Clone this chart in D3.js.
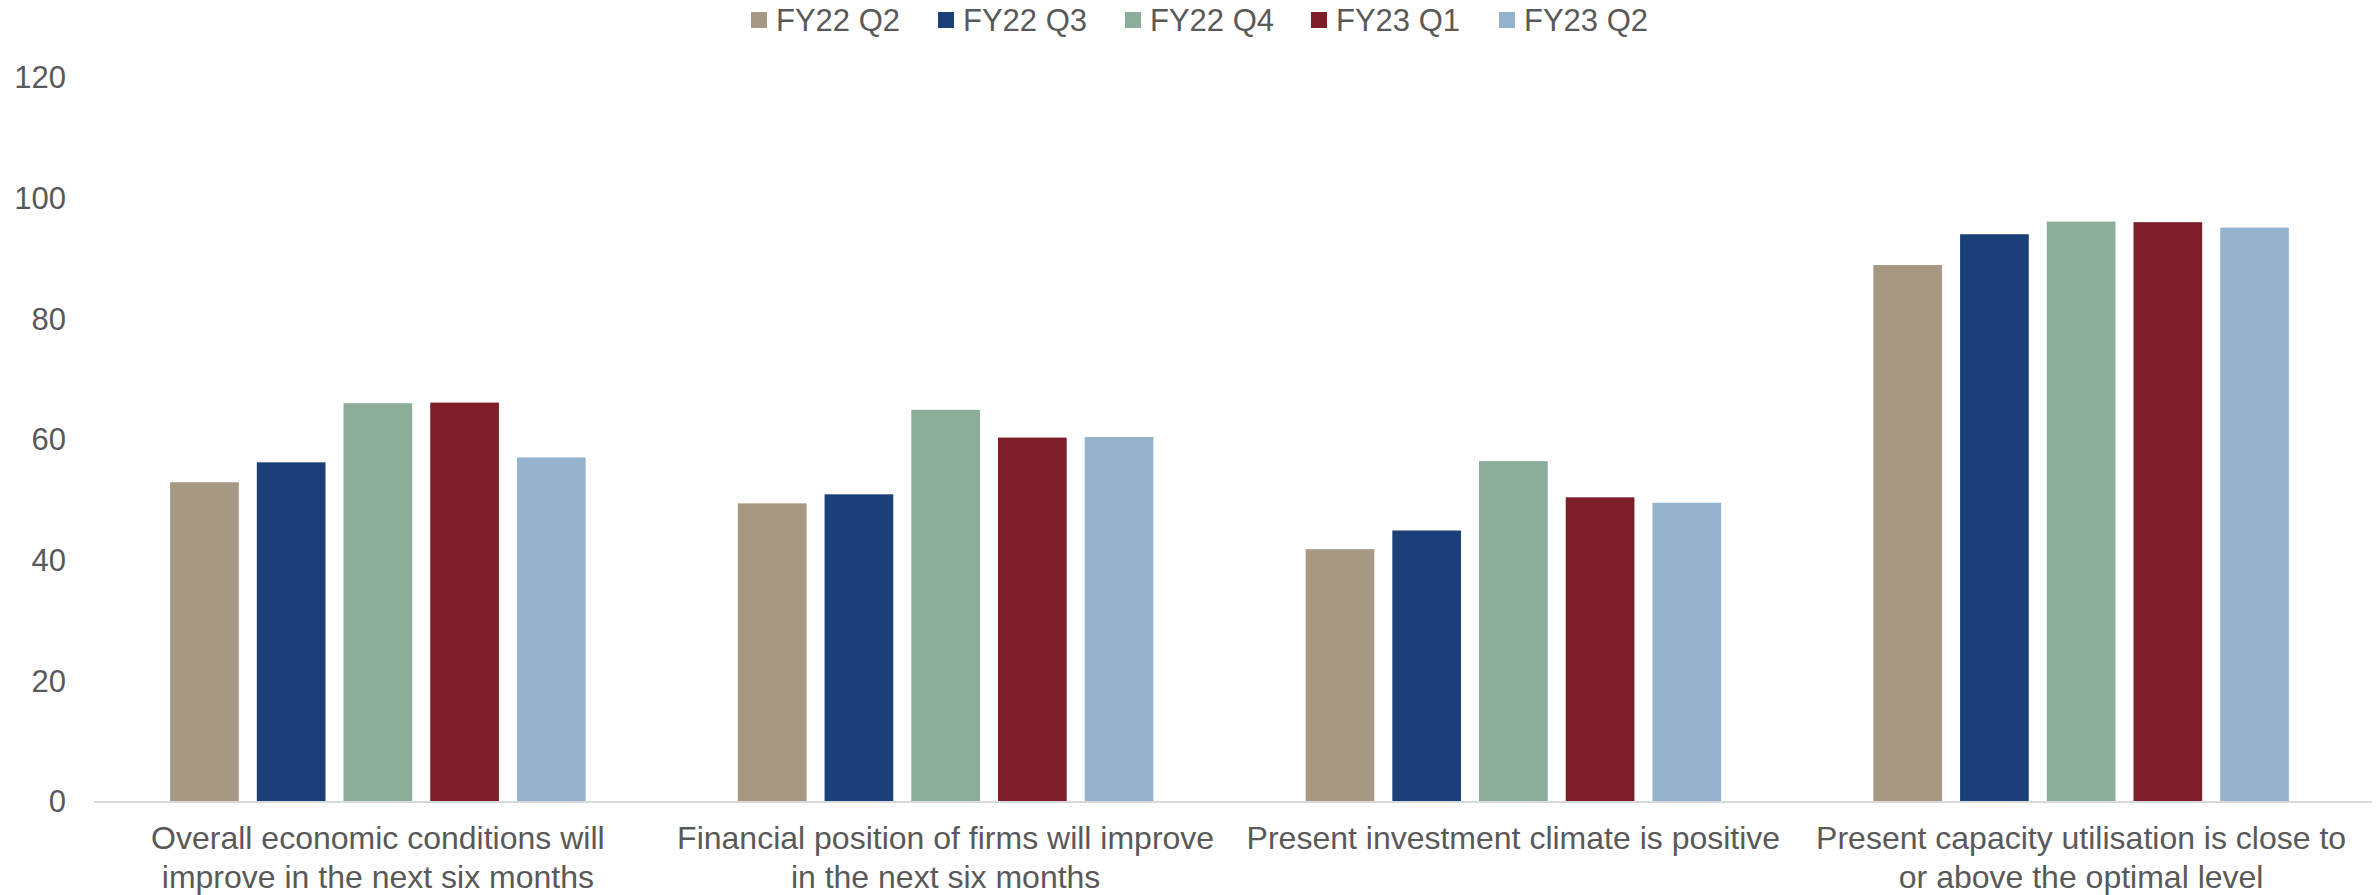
<!DOCTYPE html>
<html>
<head>
<meta charset="utf-8">
<script src="https://cdn.jsdelivr.net/npm/d3@7"></script>
<style>
  html, body { margin: 0; padding: 0; background: #fff; }
  svg { display: block; font-family: "Liberation Sans", Arial, sans-serif; }
</style>
</head>
<body>
<svg id="chart" width="2377" height="895"></svg>
<script>
// Survey statements (x categories), each split over two lines
const categories = [
  ["Overall economic conditions will", "improve in the next six months"],
  ["Financial position of firms will improve", "in the next six months"],
  ["Present investment climate is positive"],
  ["Present capacity utilisation is close to", "or above the optimal level"]
];
const seriesNames = ["FY22 Q2", "FY22 Q3", "FY22 Q4", "FY23 Q1", "FY23 Q2"];
const seriesColors = ["#A69883", "#1B3F78", "#8BAD9A", "#7C1F29", "#95B3CD"];

// Share of respondents (%) per quarter, one array per statement
const overallEconomy = [53.0, 56.3, 66.1, 66.2, 57.1];
const financialPosition = [49.5, 51.0, 65.0, 60.4, 60.5];
const investmentClimate = [41.9, 45.0, 56.5, 50.5, 49.6];
const capacityUtilisation = [89.0, 94.1, 96.2, 96.1, 95.2];
const values = [overallEconomy, financialPosition, investmentClimate, capacityUtilisation];

const yTicks = [0, 20, 40, 60, 80, 100, 120];

const svg = d3.select("#chart");
const textColor = "#595959";
const fontSize = 31;
const catFontSize = 32;

const x0 = d3.scaleBand()
  .domain(d3.range(categories.length))
  .range([94, 2365])
  .padding(0);

const x1 = d3.scaleBand()
  .domain(seriesNames)
  .range([0, x0.bandwidth()])
  .paddingInner(0.208)
  .paddingOuter(0.878);

const y = d3.scaleLinear()
  .domain([0, 120])
  .range([802, 78]);

// Y axis labels (no axis line or ticks)
const yAxis = svg.append("g")
  .attr("transform", "translate(66,0)")
  .call(d3.axisLeft(y).tickValues(yTicks).tickSize(0).tickPadding(0));
yAxis.select(".domain").remove();
yAxis.selectAll("text")
  .attr("fill", textColor)
  .style("font-size", fontSize + "px")
  .style("font-family", "'Liberation Sans', Arial, sans-serif");

// Bars
const groups = svg.append("g")
  .selectAll("g")
  .data(values)
  .join("g")
  .attr("transform", (d, i) => `translate(${x0(i)},0)`);

groups.selectAll("rect")
  .data(d => d.map((v, j) => ({ v, name: seriesNames[j], color: seriesColors[j] })))
  .join("rect")
  .attr("x", d => x1(d.name))
  .attr("y", d => y(d.v))
  .attr("width", x1.bandwidth())
  .attr("height", d => y(0) - y(d.v))
  .attr("fill", d => d.color);

// Baseline
svg.append("line")
  .attr("x1", 94).attr("x2", 2372)
  .attr("y1", y(0)).attr("y2", y(0))
  .attr("stroke", "#D9D9D9")
  .attr("stroke-width", 2);

// Category labels
const catLabels = svg.append("g")
  .selectAll("text")
  .data(categories)
  .join("text")
  .attr("x", (d, i) => x0(i) + x0.bandwidth() / 2)
  .attr("y", 849)
  .attr("text-anchor", "middle")
  .attr("fill", textColor)
  .style("font-size", catFontSize + "px");
catLabels.selectAll("tspan")
  .data(d => d)
  .join("tspan")
  .attr("x", function () { return d3.select(this.parentNode).attr("x"); })
  .attr("dy", (d, k) => k === 0 ? 0 : 39)
  .text(d => d);

// Legend
const legendX = [751, 938, 1125, 1311, 1499];
const legend = svg.append("g")
  .selectAll("g")
  .data(seriesNames)
  .join("g")
  .attr("transform", (d, i) => `translate(${legendX[i]},12)`);
legend.append("rect")
  .attr("width", 16).attr("height", 16)
  .attr("fill", (d, i) => seriesColors[i]);
legend.append("text")
  .attr("x", 25)
  .attr("y", 8)
  .attr("dy", "0.35em")
  .attr("fill", textColor)
  .style("font-size", fontSize + "px")
  .text(d => d);
</script>
</body>
</html>
